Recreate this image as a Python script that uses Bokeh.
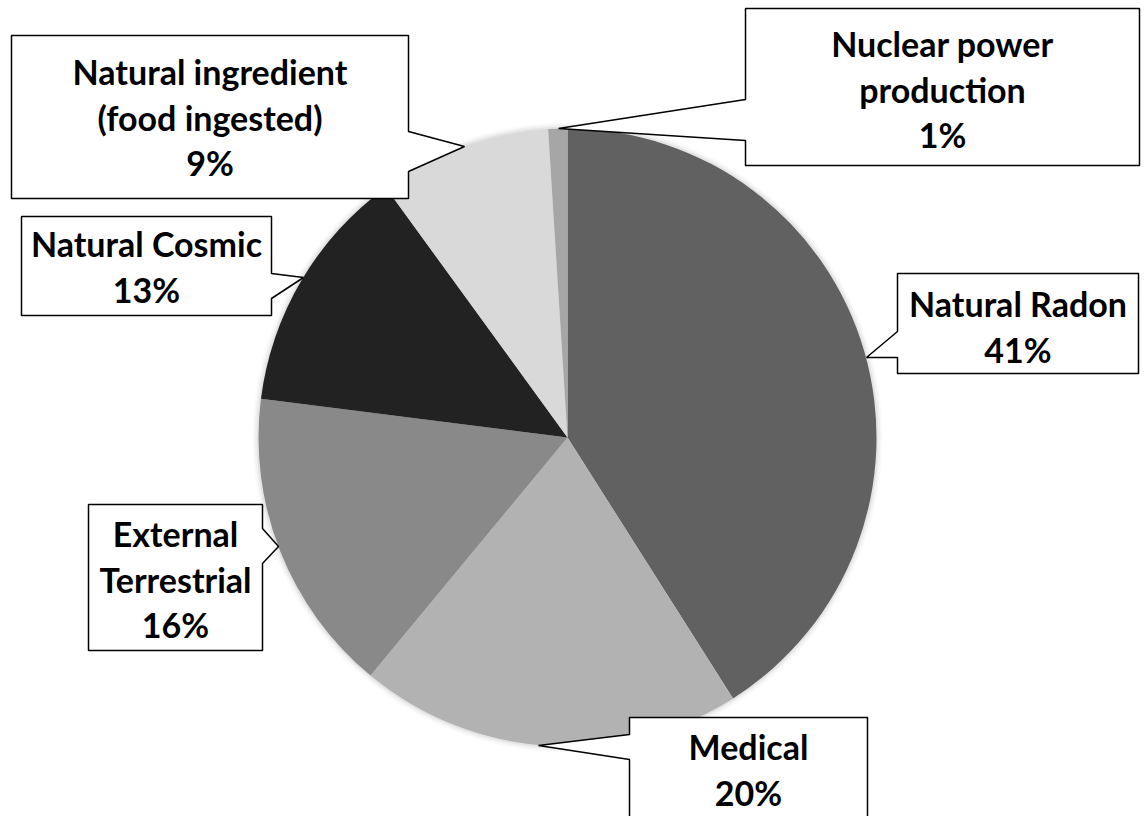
import numpy as np
from bokeh.plotting import figure
from bokeh.models import Range1d
from bokeh.core.properties import value
from bokeh.embed import file_html
from bokeh.resources import INLINE

# ---- data ----
sources = ["Natural Radon", "Medical", "External Terrestrial", "Natural Cosmic",
           "Natural ingredient (food ingested)", "Nuclear power production"]
label_lines = [["Natural Radon"], ["Medical"], ["External", "Terrestrial"],
               ["Natural Cosmic"], ["Natural ingredient", "(food ingested)"],
               ["Nuclear power", "production"]]
shares = [41, 20, 16, 13, 9, 1]
colors = ["#616161", "#b2b2b2", "#898989", "#222222", "#d9d9d9", "#a6a6a6"]

# ---- layout (image pixel coordinates, y downward) ----
W, H = 1148, 816
IMG_H = 816


def Y(y):
    return IMG_H - y


CX, CY, R = 567, Y(437), 309

# box left, top, right, bottom, pointer side, base y1, base y2, tip x, tip y, first baseline
callouts = [
    (897, 273, 1138, 373, "left", 331, 357, 866, 357, 315),
    (629, 717, 867, 860, "left", 734, 759, 538, 745, 758),
    (88, 504, 262, 650, "right", 528, 563, 278, 546, 545),
    (21, 216, 271, 315, "right", 273, 298, 303, 277, 255),
    (11, 35, 408, 198, "right", 131, 171, 464, 146, 83),
    (745, 8, 1139, 165, "left", 99, 140, 558, 128, 55),
]
LINE_STEP = 45.5
BASE_SHIFT = -12

p = figure(width=W, height=H, x_range=Range1d(0, W), y_range=Range1d(0, H),
           output_backend="svg", toolbar_location=None,
           x_axis_location=None, y_axis_location=None, min_border=0)
p.xgrid.visible = False
p.ygrid.visible = False
p.outline_line_color = None
p.background_fill_color = "white"
p.border_fill_color = "white"

# soft shadow halo
for k, a in [(6, 0.02), (4, 0.035), (2, 0.05)]:
    p.circle(x=[CX], y=[CY], radius=R + k, fill_color="#000000", fill_alpha=a, line_color=None)

vals = np.array(shares, dtype=float)
frac = vals / vals.sum()
cum = np.concatenate([[0], np.cumsum(frac)[:-1]])
start = np.pi / 2 - 2 * np.pi * cum
end = start - 2 * np.pi * frac
p.wedge(x=CX, y=CY, radius=R, start_angle=list(start), end_angle=list(end),
        direction="clock", fill_color=colors, line_color=None)

xs, ys, tx, ty, tt = [], [], [], [], []
for i, (L, T, Rr, B, side, b1, b2, tipx, tipy, base) in enumerate(callouts):
    if side == "left":
        pts = [(L, T), (Rr, T), (Rr, B), (L, B), (L, b2), (tipx, tipy), (L, b1)]
    else:
        pts = [(L, T), (Rr, T), (Rr, b1), (tipx, tipy), (Rr, b2), (Rr, B), (L, B)]
    xs.append([q[0] for q in pts])
    ys.append([Y(q[1]) for q in pts])
    lines = label_lines[i] + [f"{shares[i]}%"]
    for j, ln in enumerate(lines):
        tx.append((L + Rr) / 2)
        ty.append(Y(base + BASE_SHIFT + j * LINE_STEP))
        tt.append(ln)

p.patches(xs=xs, ys=ys, fill_color="white", line_color="black", line_width=1.5)
p.text(x=tx, y=ty, text=tt, text_font=value("Lato"), text_font_style="bold",
       text_font_size="34px", text_align="center", text_baseline="alphabetic",
       text_color="black")

open("out.html", "w").write(file_html(p, INLINE))
